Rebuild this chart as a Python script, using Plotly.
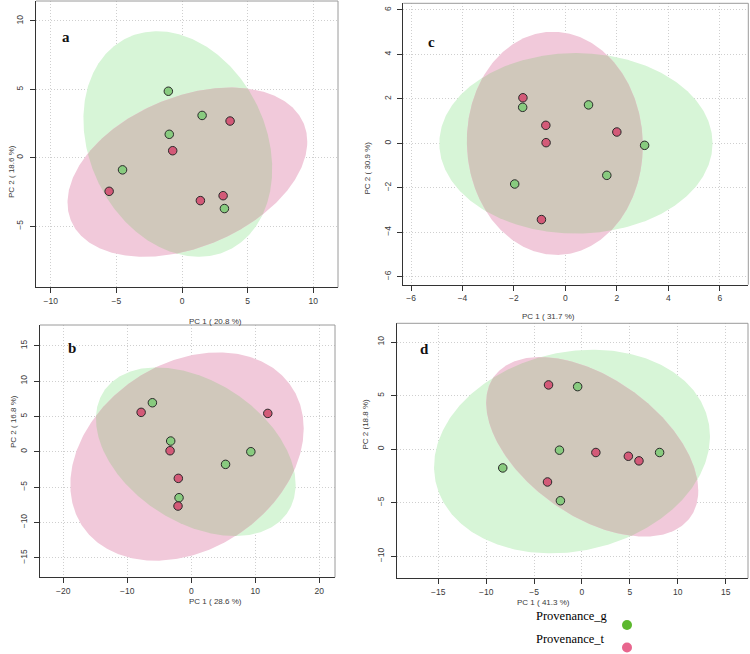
import numpy as np
import plotly.graph_objects as go

# ---------------- data ----------------
panel_letters = ["a", "b", "c", "d"]
x_titles = ["PC 1 ( 20.8 %)", "PC 1 ( 28.6 %)", "PC 1 ( 31.7 %)", "PC 1 ( 41.3 %)"]
y_titles = ["PC 2 ( 18.6 %)", "PC 2 ( 16.8 %)", "PC 2 ( 30.9 %)", "PC 2 (18.8 %)"]
legend_labels = ["Provenance_g", "Provenance_t"]

# panel a
a_g_x = [-1.04, 1.53, -0.97, -4.53, 3.23]
a_g_y = [4.86, 3.09, 1.71, -0.89, -3.72]
a_t_x = [3.66, -0.71, -5.55, 1.40, 3.13]
a_t_y = [2.68, 0.51, -2.46, -3.14, -2.78]
# ellipse: centre x, centre y, half width, half height, correlation
a_g_ell = [-0.32, 1.00, 7.19, 8.25, -0.22]
a_t_ell = [0.41, -1.06, 9.13, 6.19, 0.36]

# panel b
b_g_x = [-6.08, -3.22, 9.30, 5.35, -1.92]
b_g_y = [6.93, 1.51, 0.00, -1.79, -6.51]
b_t_x = [-7.84, 11.95, -3.32, -2.03, -2.08]
b_t_y = [5.57, 5.42, 0.14, -3.77, -7.69]
b_g_ell = [0.70, 0.00, 15.6, 11.93, -0.39]
b_t_ell = [-0.67, -0.68, 18.23, 14.74, 0.27]

# panel c
c_g_x = [-1.66, 0.90, 3.08, 1.61, -1.97]
c_g_y = [1.62, 1.73, -0.09, -1.44, -1.83]
c_t_x = [-1.65, -0.76, -0.75, 2.00, -0.93]
c_t_y = [2.05, 0.81, 0.03, 0.51, -3.43]
c_g_ell = [0.41, 0.00, 5.31, 4.06, 0.0]
c_t_ell = [-0.41, 0.00, 3.42, 5.02, -0.02]

# panel d
d_g_x = [-0.45, -2.35, 8.10, -8.27, -2.25]
d_g_y = [5.84, -0.09, -0.31, -1.75, -4.81]
d_t_x = [-3.49, 1.45, 4.84, 5.95, -3.60]
d_t_y = [6.00, -0.31, -0.66, -1.09, -3.06]
d_g_ell = [-1.04, -0.22, 14.4, 9.5, 0.15]
d_t_ell = [1.07, 0.22, 11.07, 8.38, -0.49]

# ---------------- layout constants ----------------
W, H = 750, 654
panels = [
    dict(box=(36, 1, 338, 287.3), xr=[-11.12, 11.88], yr=[-9.48, 11.46], dx=5, dy=5,
         g=(a_g_x, a_g_y, a_g_ell), t=(a_t_x, a_t_y, a_t_ell),
         letter=(60, 27), xt=(187, 321), yt=(5, 143)),
    dict(box=(40, 325, 335, 577.3), xr=[-23.64, 22.45], yr=[-17.77, 17.93], dx=10, dy=5,
         g=(b_g_x, b_g_y, b_g_ell), t=(b_t_x, b_t_y, b_t_ell),
         letter=(66, 348), xt=(187, 607.5), yt=(7, 450)),
    dict(box=(403.3, 3.3, 748.3, 284.7), xr=[-6.30, 7.11], yr=[-6.36, 6.30], dx=2, dy=2,
         g=(c_g_x, c_g_y, c_g_ell), t=(c_t_x, c_t_y, c_t_ell),
         letter=(432, 32), xt=(577, 316), yt=(367, 140)),
    dict(box=(396.7, 323.3, 748, 578.3), xr=[-19.34, 17.33], yr=[-12.05, 11.75], dx=5, dy=5,
         g=(d_g_x, d_g_y, d_g_ell), t=(d_t_x, d_t_y, d_t_ell),
         letter=(424, 349), xt=(572, 608.5), yt=(365, 452)),
]

GREEN_FILL = "#d7f5d7"
PINK_FILL = "#f1c9da"
OVER_FILL = "#d0c8bb"
GREEN_PT = "#88cb7f"
PINK_PT = "#d35a78"
TXT = "#3a3a3a"


def cov_of(e):
    cx, cy, hw, hh, r = e
    sxy = r * hw * hh
    return np.array([cx, cy]), np.array([[hw * hw, sxy], [sxy, hh * hh]])


def ellipse(e, n=400):
    c, S = cov_of(e)
    L = np.linalg.cholesky(S)
    t = np.linspace(0, 2 * np.pi, n)
    pts = c[:, None] + L @ np.vstack([np.cos(t), np.sin(t)])
    return pts


def inside(pts, e):
    c, S = cov_of(e)
    Si = np.linalg.inv(S)
    d = pts - c[:, None]
    return np.einsum("in,ij,jn->n", d, Si, d) <= 1.0


def intersection(e1, e2):
    p1 = ellipse(e1, 1500)
    p2 = ellipse(e2, 1500)
    pts = np.hstack([p1[:, inside(p1, e2)], p2[:, inside(p2, e1)]])
    if pts.shape[1] < 3:
        return None
    m = pts.mean(axis=1)
    ang = np.arctan2(pts[1] - m[1], pts[0] - m[0])
    o = np.argsort(ang)
    pts = pts[:, o]
    return np.hstack([pts, pts[:, :1]])


px = lambda v: v / W
py = lambda v: 1 - v / H

fig = go.Figure()
annotations = []
shapes = []
layout = {}

for i, p in enumerate(panels):
    k = "" if i == 0 else str(i + 1)
    xa, ya = "x" + k, "y" + k
    gx, gy, ge = p["g"]
    tx, ty, te = p["t"]
    eg = ellipse(ge)
    et = ellipse(te)
    ov = intersection(ge, te)
    for pts, col in [(eg, GREEN_FILL), (et, PINK_FILL), (ov, OVER_FILL)]:
        if pts is None:
            continue
        fig.add_trace(go.Scatter(x=pts[0], y=pts[1], mode="lines", fill="toself",
                                 fillcolor=col, line=dict(width=0, color=col),
                                 hoverinfo="skip", showlegend=False, xaxis=xa, yaxis=ya))
    fig.add_trace(go.Scatter(x=gx, y=gy, mode="markers", showlegend=False,
                             marker=dict(size=8.5, color=GREEN_PT, line=dict(width=1, color="#2a2a2a")),
                             xaxis=xa, yaxis=ya))
    fig.add_trace(go.Scatter(x=tx, y=ty, mode="markers", showlegend=False,
                             marker=dict(size=8.5, color=PINK_PT, line=dict(width=1, color="#2a2a2a")),
                             xaxis=xa, yaxis=ya))

    x0, y0, x1, y1 = p["box"]
    common = dict(showline=True, linecolor="#333333", linewidth=1.3, mirror=False,
                  ticks="outside", ticklen=5, tickcolor="#333333", tickwidth=1,
                  showgrid=True, gridcolor="#cfcfcf", griddash="1px,2px", gridwidth=1,
                  zeroline=False, tickfont=dict(family="Liberation Sans", size=8.5, color=TXT))
    layout["xaxis" + k] = dict(common, domain=[px(x0), px(x1)], range=p["xr"], dtick=p["dx"],
                               tick0=0, anchor=ya)
    layout["yaxis" + k] = dict(common, domain=[py(y1), py(y0)], range=p["yr"], dtick=p["dy"],
                               tick0=0, anchor=xa, tickangle=-90, ticklabelstandoff=3)
    # top and right light border
    shapes.append(dict(type="line", xref="paper", yref="paper", x0=px(x0), x1=px(x1),
                       y0=py(y0), y1=py(y0), line=dict(color="#9a9a9a", width=1)))
    shapes.append(dict(type="line", xref="paper", yref="paper", x0=px(x1), x1=px(x1),
                       y0=py(y0), y1=py(y1), line=dict(color="#9a9a9a", width=1)))
    annotations.append(dict(text="<b>%s</b>" % panel_letters[i], x=px(p["letter"][0]),
                            y=py(p["letter"][1]), xref="paper", yref="paper", showarrow=False,
                            font=dict(family="Liberation Serif", size=15, color="#111111")))
    annotations.append(dict(text=x_titles[i], x=px(p["xt"][0]), y=py(p["xt"][1]),
                            xref="paper", yref="paper", showarrow=False,
                            font=dict(family="Liberation Sans", size=8, color=TXT)))
    annotations.append(dict(text=y_titles[i], x=px(p["yt"][0]), y=py(p["yt"][1]),
                            xref="paper", yref="paper", showarrow=False, textangle=-90,
                            font=dict(family="Liberation Sans", size=8, color=TXT)))

# legend (text left, dot right)
leg_cols = ["#5cb82e", "#e8668e"]
leg_y = [625, 647.5]
for lab, col, yy in zip(legend_labels, leg_cols, leg_y):
    annotations.append(dict(text=lab, x=px(534), y=py(yy), xref="paper", yref="paper",
                            xanchor="left", showarrow=False,
                            font=dict(family="Liberation Serif", size=12.5, color="#000000")))
    r = 5
    shapes.append(dict(type="circle", xref="paper", yref="paper",
                       x0=px(627 - r), x1=px(627 + r), y0=py(yy + r), y1=py(yy - r),
                       fillcolor=col, line=dict(width=0)))

fig.update_layout(width=W, height=H, margin=dict(l=0, r=0, t=0, b=0),
                  paper_bgcolor="white", plot_bgcolor="white",
                  annotations=annotations, shapes=shapes, showlegend=False, **layout)
fig.write_html("out.html")
